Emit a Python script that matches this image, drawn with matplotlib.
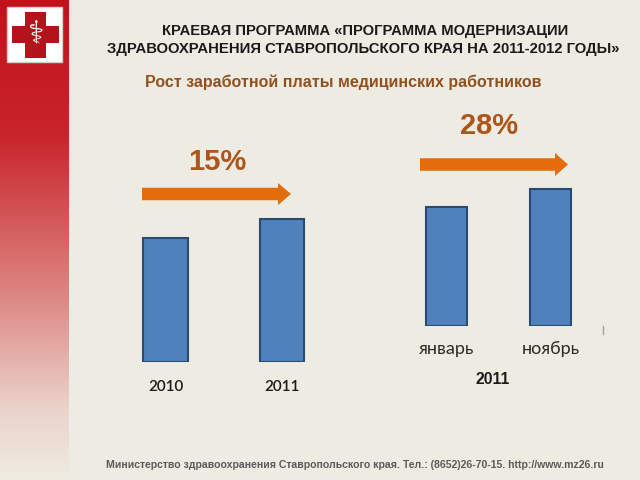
import matplotlib.pyplot as plt
import numpy as np
from matplotlib.colors import LinearSegmentedColormap
from matplotlib.patches import Rectangle, FancyArrow

# data
years = ['2010', '2011']
salary_years = [100, 115]
months = ['январь', 'ноябрь']
salary_months = [100, 115]
growth = ['15%', '28%']

title_lines = ['КРАЕВАЯ ПРОГРАММА «ПРОГРАММА МОДЕРНИЗАЦИИ',
               'ЗДРАВООХРАНЕНИЯ СТАВРОПОЛЬСКОГО КРАЯ НА 2011-2012 ГОДЫ»']
subtitle = 'Рост заработной платы медицинских работников'
footer = ('Министерство здравоохранения Ставропольского края. '
          'Тел.: (8652)26-70-15. http://www.mz26.ru')

W, H = 640, 480
BG = '#eeece2'
BAR = '#4f81bd'
BAR_EDGE = '#2b4a72'
ORANGE = '#e46c0a'
PCT = '#ad551b'

fig = plt.figure(figsize=(6.4, 4.8), dpi=100)
fig.patch.set_facecolor(BG)

# red band on the left
band = fig.add_axes([0, 0, 69 / W, 1])
cmap = LinearSegmentedColormap.from_list(
    'band', [(0, '#c1121c'), (0.28, '#c8242b'), (0.62, '#dd8884'),
             (0.85, '#ead2ca'), (1, BG)])
band.imshow(np.linspace(0, 1, 256)[:, None], aspect='auto', cmap=cmap,
            extent=[0, 1, 0, 1])
band.axis('off')

# overlay in pixel coordinates for texts and decorations
ov = fig.add_axes([0, 0, 1, 1])
ov.set_xlim(0, W)
ov.set_ylim(H, 0)
ov.axis('off')
ov.patch.set_alpha(0)

# logo
ov.add_patch(Rectangle((7, 7), 55, 55, fc='white', ec='#d8d0c8', lw=1))
ov.add_patch(Rectangle((11.7, 26), 47.6, 16.7, fc='#b3131b', lw=0))
ov.add_patch(Rectangle((25, 11.7), 20.7, 46, fc='#b3131b', lw=0))
ov.text(35.3, 35, '⚕', color='white', fontsize=22, ha='center', va='center',
        family='DejaVu Sans')

ov.text(365, 31, title_lines[0], ha='center', va='center', fontsize=10.6,
        fontweight='bold', color='#1a1a1a', family='Liberation Sans')
ov.text(363, 49, title_lines[1], ha='center', va='center', fontsize=10.7,
        fontweight='bold', color='#1a1a1a', family='Liberation Sans')
ov.text(343, 82, subtitle, ha='center', va='center', fontsize=11.5,
        fontweight='bold', color='#93501f', family='Liberation Sans')

# arrows and growth labels
ov.add_patch(FancyArrow(142, 194, 149, 0, width=12.5, head_width=22,
                        head_length=13, length_includes_head=True,
                        color=ORANGE, lw=0))
ov.add_patch(FancyArrow(420, 164.5, 148, 0, width=12.5, head_width=23,
                        head_length=13, length_includes_head=True,
                        color=ORANGE, lw=0))
ov.text(217, 162, growth[0], ha='center', va='center', fontsize=21,
        fontweight='bold', color=PCT, family='Liberation Sans')
ov.text(489, 126, growth[1], ha='center', va='center', fontsize=21,
        fontweight='bold', color=PCT, family='Liberation Sans')

ov.text(493, 380, '2011', ha='center', va='center', fontsize=11.3,
        fontweight='bold', color='#1a1a1a', family='Liberation Sans')
ov.plot([603, 603], [326, 334], color='#a0a0a0', lw=1)

ov.text(355, 465, footer, ha='center', va='center', fontsize=7.6,
        fontweight='bold', color='#5a5a5a', family='Liberation Sans')


def bar_axes(left, bottom, width, height, px_per_unit):
    ax = fig.add_axes([left / W, 1 - bottom / H, width / W, height / H])
    ax.set_xlim(-0.5, 1.5)
    ax.set_ylim(0, height / px_per_unit)
    ax.patch.set_alpha(0)
    for s in ax.spines.values():
        s.set_visible(False)
    ax.tick_params(length=0, left=False, labelleft=False)
    return ax


# left chart: 2010 vs 2011
ax1 = bar_axes(107.25, 362, 233, 200, 1.24)
ax1.bar([0, 1], salary_years, width=0.386, color=BAR, edgecolor=BAR_EDGE,
        linewidth=1.5)
ax1.set_xticks([0, 1])
ax1.set_xticklabels(years, fontsize=11, family='Lato', fontweight='semibold',
                    color='#1a1a1a')
ax1.tick_params(axis='x', pad=13)

# right chart: January vs November 2011
ax2 = bar_axes(394.5, 326, 208, 200, 1.19)
ax2.bar([0, 1], salary_months, width=0.394, color=BAR, edgecolor=BAR_EDGE,
        linewidth=1.5)
ax2.set_xticks([0, 1])
ax2.set_xticklabels(months, fontsize=13, family='Lato', color='#2a2a2a')
ax2.tick_params(axis='x', pad=11)

fig.savefig('out.png', dpi=100, facecolor=BG)
